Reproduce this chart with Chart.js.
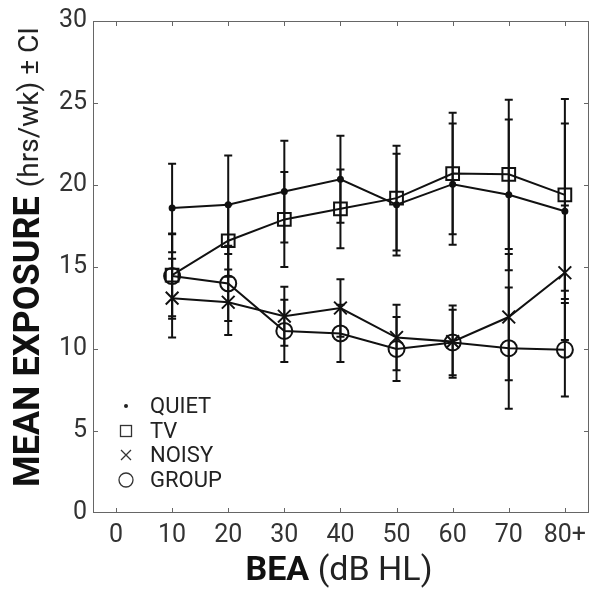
<!DOCTYPE html>
<html>
<head>
<meta charset="utf-8">
<script src="https://cdn.jsdelivr.net/npm/chart.js@4/dist/chart.umd.min.js"></script>
<style>
  html, body { margin: 0; padding: 0; background: #fff; }
  #wrap { width: 600px; height: 591px; }
</style>
</head>
<body>
<div id="wrap"><canvas id="exposureChart" width="600" height="591"></canvas></div>
<script>
// BEA categories (dB HL)
const bea = [10, 20, 30, 40, 50, 60, 70, 80];
const xTicks = [0, 10, 20, 30, 40, 50, 60, 70, 80];
const xTickLabels = ['0', '10', '20', '30', '40', '50', '60', '70', '80+'];
const yTicks = [0, 5, 10, 15, 20, 25, 30];

// mean exposure (hrs/wk) and half-width of CI
const quietMean = [18.6, 18.8, 19.6, 20.35, 18.8, 20.05, 19.4, 18.4];
const quietCI = [2.7, 3.0, 3.1, 2.65, 3.1, 3.7, 4.6, 5.35];
const tvMean = [14.5, 16.6, 17.9, 18.55, 19.2, 20.7, 20.65, 19.4];
const tvCI = [2.5, 2.2, 2.9, 2.4, 3.2, 3.7, 4.55, 5.85];
const noisyMean = [13.1, 12.85, 12.0, 12.5, 10.7, 10.45, 11.95, 14.65];
const noisyCI = [2.4, 2.0, 1.8, 1.75, 2.0, 2.2, 3.85, 4.1];
const groupMean = [14.45, 14.0, 11.1, 10.95, 10.0, 10.4, 10.05, 9.95];
const groupCI = [2.6, 2.3, 1.9, 1.75, 1.95, 2.0, 3.7, 2.85];

const toPoints = arr => arr.map((v, i) => ({x: bea[i], y: v}));

const ink = '#111';
const makeSet = (label, mean, ci, style, radius, fill) => ({
    label,
    data: toPoints(mean),
    ci,
    borderColor: ink,
    borderWidth: 2,
    pointStyle: style,
    pointRadius: radius,
    pointBorderWidth: 2,
    pointBorderColor: ink,
    pointBackgroundColor: fill,
    tension: 0,
    fill: false
});

const datasets = [
    makeSet('QUIET', quietMean, quietCI, 'circle', 2.5, ink),
    makeSet('TV', tvMean, tvCI, 'rect', 9, 'rgba(0,0,0,0)'),
    makeSet('NOISY', noisyMean, noisyCI, 'crossRot', 9, 'rgba(0,0,0,0)'),
    makeSet('GROUP', groupMean, groupCI, 'circle', 8, 'rgba(0,0,0,0)')
];

// error bars from each dataset's ci array, placed with the chart scales
const errorBars = {
    id: 'errorBars',
    afterDatasetsDraw(chart) {
        const {ctx, scales: {x, y}} = chart;
        ctx.save();
        ctx.strokeStyle = ink;
        ctx.lineWidth = 2;
        chart.data.datasets.forEach(ds => {
            ds.data.forEach((p, i) => {
                const px = x.getPixelForValue(p.x),
                    top = y.getPixelForValue(p.y + ds.ci[i]),
                    bot = y.getPixelForValue(p.y - ds.ci[i]);
                ctx.beginPath();
                ctx.moveTo(px, top); ctx.lineTo(px, bot);
                ctx.moveTo(px - 4, top); ctx.lineTo(px + 4, top);
                ctx.moveTo(px - 4, bot); ctx.lineTo(px + 4, bot);
                ctx.stroke();
            });
        });
        ctx.restore();
    }
};

// box frame with inward ticks on all sides
const frame = {
    id: 'frame',
    afterDraw(chart) {
        const {ctx, chartArea: a, scales: {x, y}} = chart;
        ctx.save();
        ctx.strokeStyle = '#666';
        ctx.lineWidth = 1;
        ctx.strokeRect(a.left + 0.5, a.top + 0.5, a.right - a.left - 1, a.bottom - a.top - 1);
        ctx.beginPath();
        xTicks.forEach(v => {
            const px = Math.round(x.getPixelForValue(v)) + 0.5;
            ctx.moveTo(px, a.bottom); ctx.lineTo(px, a.bottom - 5);
            ctx.moveTo(px, a.top); ctx.lineTo(px, a.top + 5);
        });
        yTicks.slice(1, -1).forEach(v => {
            const py = Math.round(y.getPixelForValue(v)) + 0.5;
            ctx.moveTo(a.left, py); ctx.lineTo(a.left + 5, py);
            ctx.moveTo(a.right, py); ctx.lineTo(a.right - 5, py);
        });
        ctx.stroke();
        ctx.restore();
    }
};

// axis titles with mixed weights, and the legend in the lower left
const annotations = {
    id: 'annotations',
    afterDraw(chart) {
        const {ctx} = chart;
        const fam = 'Roboto, "Liberation Sans", sans-serif';
        ctx.save();
        ctx.textBaseline = 'alphabetic';
        ctx.textAlign = 'left';

        // x title
        ctx.font = `bold 34px ${fam}`;
        const b1 = 'BEA ';
        const w1 = ctx.measureText(b1).width;
        ctx.font = `34px ${fam}`;
        const r1 = '(dB HL)';
        const w2 = ctx.measureText(r1).width;
        let sx = 339 - (w1 + w2) / 2;
        ctx.fillStyle = ink;
        ctx.font = `bold 34px ${fam}`;
        ctx.fillText(b1, sx, 580);
        ctx.fillStyle = '#222';
        ctx.font = `34px ${fam}`;
        ctx.fillText(r1, sx + w1, 580);

        // y title
        ctx.translate(39, 257);
        ctx.rotate(-Math.PI / 2);
        ctx.font = `bold 36px ${fam}`;
        const b2 = 'MEAN EXPOSURE ';
        const w3 = ctx.measureText(b2).width;
        ctx.font = `28px ${fam}`;
        const r2 = '(hrs/wk) ± CI';
        const w4 = ctx.measureText(r2).width;
        sx = -(w3 + w4) / 2;
        ctx.fillStyle = ink;
        ctx.font = `bold 36px ${fam}`;
        ctx.fillText(b2, sx, 0);
        ctx.fillStyle = '#222';
        ctx.font = `28px ${fam}`;
        ctx.fillText(r2, sx + w3, -1);
        ctx.restore();

        // legend
        ctx.save();
        const mx = 126, tx = 150, rows = [406, 431, 455, 480];
        ctx.strokeStyle = '#333';
        ctx.fillStyle = '#222';
        ctx.lineWidth = 1.3;
        chart.data.datasets.forEach((ds, i) => {
            const yy = rows[i];
            ctx.beginPath();
            if (i === 0) {
                ctx.arc(mx, yy, 2, 0, Math.PI * 2);
                ctx.fill();
            } else if (i === 1) {
                ctx.strokeRect(mx - 5.5, yy - 5.5, 11, 11);
            } else if (i === 2) {
                ctx.moveTo(mx - 5, yy - 5); ctx.lineTo(mx + 5, yy + 5);
                ctx.moveTo(mx + 5, yy - 5); ctx.lineTo(mx - 5, yy + 5);
                ctx.stroke();
            } else {
                ctx.arc(mx, yy, 7, 0, Math.PI * 2);
                ctx.stroke();
            }
            ctx.font = `22px ${fam}`;
            ctx.textBaseline = 'middle';
            ctx.fillText(ds.label, tx, yy + 1);
        });
        ctx.restore();
    }
};

const tickFont = {family: 'Roboto, "Liberation Sans", sans-serif', size: 25};

new Chart(document.getElementById('exposureChart'), {
    type: 'line',
    data: {datasets},
    options: {
        responsive: false,
        animation: false,
        layout: {padding: {left: 0, right: 10, top: 17, bottom: 0}},
        plugins: {
            legend: {display: false},
            tooltip: {enabled: false}
        },
        scales: {
            x: {
                type: 'linear',
                min: -4.1,
                max: 84.3,
                afterBuildTicks: s => { s.ticks = xTicks.map(v => ({value: v})) },
                afterFit: s => { s.height = 78 },
                grid: {display: false, drawTicks: false},
                border: {display: false},
                ticks: {
                    padding: 8,
                    color: '#333',
                    font: tickFont,
                    autoSkip: false,
                    maxRotation: 0,
                    callback: (v, i) => xTickLabels[i]
                }
            },
            y: {
                min: 0,
                max: 30,
                afterBuildTicks: s => { s.ticks = yTicks.map(v => ({value: v})) },
                afterFit: s => { s.width = 93 },
                grid: {display: false, drawTicks: false},
                border: {display: false},
                ticks: {padding: 6, color: '#333', font: tickFont}
            }
        }
    },
    plugins: [errorBars, frame, annotations]
});
</script>
</body>
</html>
